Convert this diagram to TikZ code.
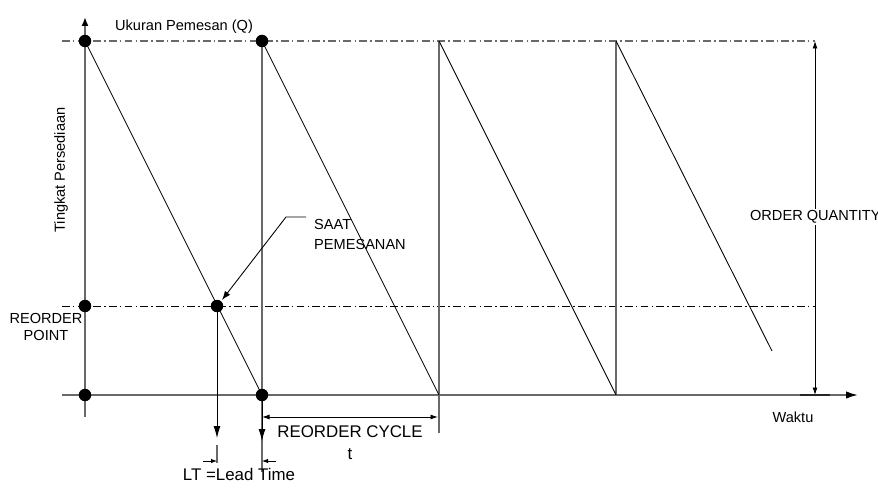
\documentclass[tikz,border=0pt]{standalone}
\usepackage{fontspec}
\setmainfont{Liberation Sans}
\usepackage{xcolor}
\usetikzlibrary{arrows.meta}

\definecolor{linegray}{RGB}{105,105,105}

\begin{document}
\begin{tikzpicture}[
  x=0.02cm, y=-0.02cm,
  font=\fontsize{8.3}{10}\selectfont,
  dot/.style={circle, fill=black, inner sep=0pt, minimum size=2.5mm},
  axisline/.style={draw=linegray, line width=1pt},
  stock/.style={draw=black, line width=0.5pt},
  level/.style={line width=0.6pt,
                dash pattern=on 4.5pt off 1.8pt on 0.8pt off 1.8pt},
  dim/.style={draw=black, line width=0.5pt,
              {Latex[length=1.5mm,width=1mm]}-{Latex[length=1.5mm,width=1mm]}},
  bigtext/.style={font=\fontsize{9.6}{12}\selectfont},
]
\path[use as bounding box] (0,0) rectangle (878,489);

% points of the saw-tooth
\coordinate (q0) at (85,41);
\coordinate (q1) at (262,41);
\coordinate (q2) at (439,41);
\coordinate (q3) at (616,41);
\coordinate (z0) at (85,395);
\coordinate (z1) at (262,395);
\coordinate (z2) at (439,395);
\coordinate (z3) at (616,395);
\coordinate (r0) at (85,306);
\coordinate (rp) at (217,306);
\coordinate (last) at (772,351);

% axes
\coordinate (ybot) at (85,417);
\coordinate (ytop) at (85,17);
\coordinate (xl) at (62,395);
\coordinate (xr) at (858,395);
\draw[axisline, -{Latex[length=1.8mm,width=1.4mm,color=black]}] (ybot) -- (ytop);
\draw[axisline, -{Latex[length=2.4mm,width=1.5mm,color=black]}] (xl) -- (xr);
\coordinate (xba) at (800,395);
\coordinate (xbb) at (830,395);
\draw[draw=black!85, line width=1.3pt] (xba) -- (xbb);

% Q level and reorder level
\coordinate (ql) at (62,41);
\coordinate (qr) at (815,41);
\coordinate (rl) at (62,306);
\coordinate (rr) at (815,306);
\draw[level, draw=linegray] (ql) -- (qr);
\draw[level, draw=black, line width=0.5pt] (rl) -- (rr);

% replenishments
\coordinate (v1) at (262,472);
\coordinate (v2) at (439,433);
\draw[axisline] (q1) -- (v1);
\draw[axisline] (q2) -- (v2);
\draw[axisline] (q3) -- (z3);

% consumption
\draw[stock] (q0) -- (z1);
\draw[stock] (q1) -- (z2);
\draw[stock] (q2) -- (z3);
\draw[stock] (q3) -- (last);

% lead time
\coordinate (rpdown) at (217,438);
\coordinate (z1down) at (262,441);
\coordinate (tka) at (217,445);
\coordinate (tkb) at (217,463);
\draw[stock, -{Latex[length=2.4mm,width=1.4mm]}] (rp) -- (rpdown);
\draw[stock, -{Latex[length=2.4mm,width=1.4mm]}] (z1) -- (z1down);
\draw[draw=linegray, line width=0.6pt] (tka) -- (tkb);
\coordinate (lta) at (203,461);
\coordinate (ltb) at (217,461);
\coordinate (ltc) at (276,461);
\coordinate (ltd) at (262,461);
\draw[stock, -{Latex[length=1.2mm,width=0.9mm]}] (lta) -- (ltb);
\draw[stock, -{Latex[length=1.2mm,width=0.9mm]}] (ltc) -- (ltd);
\node[bigtext] (lt) at (239,474) {LT =Lead Time};

% reorder cycle
\coordinate (rca) at (262,417);
\coordinate (rcb) at (438,417);
\draw[dim] (rca) -- (rcb);
\node[bigtext, align=center, anchor=north] (cycle) at (350,420)
  {REORDER CYCLE\\t};

% order quantity
\coordinate (oqb) at (815,395);
\coordinate (oqt) at (815,41);
\draw[dim] (oqb) -- (oqt);
\node[anchor=west, fill=white, inner sep=1pt] (oq) at (748,217) {ORDER QUANTITY};

% moment of ordering
\coordinate (sa) at (306,217);
\coordinate (sb) at (286,217);
\coordinate (sc) at (222,300);
\draw[stock, -{Latex[length=1.8mm,width=1.3mm]}] (sa) -- (sb) -- (sc);
\node[anchor=north west, align=left, font=\fontsize{8.3}{11.3}\selectfont]
  (saat) at (308,213) {SAAT\\PEMESANAN};

% labels
\node (ukuran) at (184,27) {Ukuran Pemesan (Q)};
\node[rotate=90] (tingkat) at (61,170) {Tingkat Persediaan};
\node[align=center] (rop) at (46,327) {REORDER\\POINT};
\node (waktu) at (793,417) {Waktu};

% dots
\node[dot] (q0dot) at (q0) {};
\node[dot] (q1dot) at (q1) {};
\node[dot] (r0dot) at (r0) {};
\node[dot] (rpdot) at (rp) {};
\node[dot] (z0dot) at (z0) {};
\node[dot] (z1dot) at (z1) {};

\end{tikzpicture}
\end{document}
